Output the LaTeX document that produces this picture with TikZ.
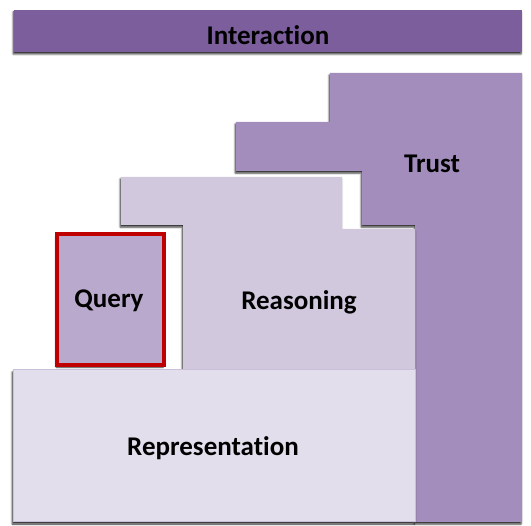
\documentclass[tikz,border=0pt]{standalone}
\usepackage{fontspec}
\setmainfont[Ligatures=NoCommon]{Carlito}
\usetikzlibrary{shadows.blur}
\definecolor{interact}{HTML}{7B5E9B}
\definecolor{trustc}{HTML}{A38DBC}
\definecolor{reasonc}{HTML}{D1C8DE}
\definecolor{queryc}{HTML}{B9A9CC}
\definecolor{reprc}{HTML}{E3DEEC}
\definecolor{reprline}{HTML}{CBC0DA}
\definecolor{queryline}{HTML}{C00000}
\tikzset{
  softshadow/.style={blur shadow={shadow xshift=-0.8pt, shadow yshift=-2pt,
      shadow blur radius=1.8pt, shadow opacity=85}},
  layer/.style={softshadow, draw=none},
  label/.style={font=\fontsize{27}{30}\selectfont\bfseries, text=black, inner sep=0pt}
}
\begin{document}
\begin{tikzpicture}[x=1pt, y=-1pt]
\useasboundingbox (0,0) rectangle (531,526);
% top bar
\fill[interact, layer] (14,10) rectangle (522,52);
\node[label] (interaction) at (268,35) {Interaction};
% trust staircase
\fill[trustc, layer] (330,73) -- (522,73) -- (522,522) -- (415,522) -- (415,225)
  -- (362,225) -- (362,171) -- (236,171) -- (236,122) -- (330,122) -- cycle;
\node[label] (trust) at (432,164) {Trust};
% reasoning block
\fill[reasonc, layer] (121,177) -- (342,177) -- (342,229) -- (415,229) -- (415,370)
  -- (183,370) -- (183,225) -- (121,225) -- cycle;
\node[label] (reasoning) at (299,302) {Reasoning};
% query box
\filldraw[fill=queryc, draw=queryline, line width=3.6pt, softshadow]
  (57,234) rectangle (164,365);
\node[label] (query) at (109,301) {Query};
% representation base
\filldraw[fill=reprc, draw=reprline, line width=1pt, softshadow]
  (13,370) rectangle (415,522);
\node[label] (representation) at (213,448) {Representation};
\end{tikzpicture}
\end{document}
